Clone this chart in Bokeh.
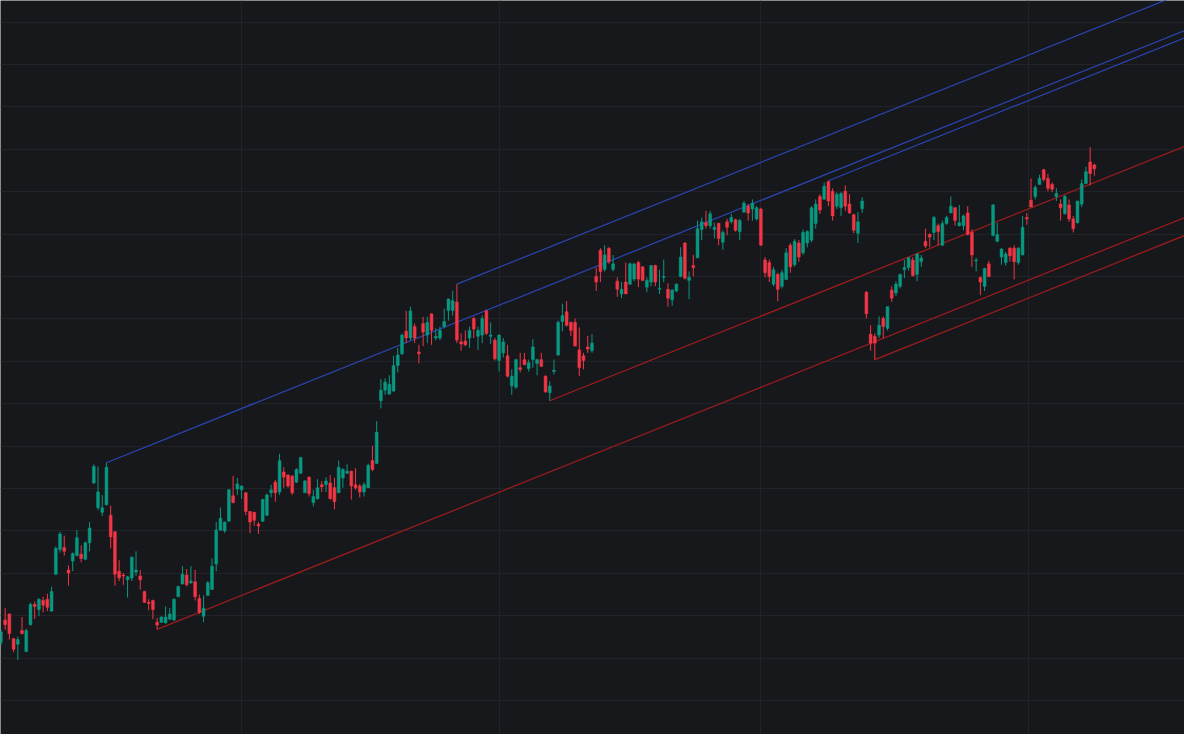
from bokeh.plotting import figure
from bokeh.models import Range1d, Grid, FixedTicker, ColumnDataSource
from bokeh.embed import file_html
from bokeh.resources import INLINE

# ---- OHLC data (one bar per trading session) ----
opens = [113.7,119.0,120.4,114.6,113.3,116.5,111.6,117.9,122.7,121.5,123.6,123.9,121.1,129.8,135.6,136.1,130.8,132.9,134.2,134.5,
         133.3,137.2,151.3,145.5,144.4,146.2,143.7,139.8,130.5,129.6,128.5,128.9,130.3,129.4,125.7,123.2,123.6,118.5,118.5,118.3,
         119.2,119.0,124.5,127.5,129.6,127.8,128.0,124.1,119.9,124.8,126.2,132.2,140.2,140.0,142.3,148.3,149.9,149.7,149.0,144.6,
         144.4,141.6,142.3,143.7,149.0,151.5,149.2,153.9,153.2,152.9,151.5,153.6,149.0,152.7,146.7,147.6,150.9,150.9,151.3,150.2,
         149.0,152.5,153.6,154.1,150.9,150.6,149.2,150.2,156.6,155.9,170.7,173.2,172.3,173.0,179.0,181.8,187.1,185.5,188.2,182.2,
         188.9,186.2,191.2,185.5,185.5,188.2,192.0,192.0,194.0,184.6,184.8,185.5,190.1,185.9,186.2,191.9,185.9,185.0,180.2,182.0,
         181.3,174.2,173.9,178.5,180.4,178.3,180.4,179.5,180.4,176.5,172.6,177.6,181.5,189.4,191.7,189.2,189.2,182.7,181.3,183.4,
         182.5,200.0,206.2,201.7,206.7,201.7,198.9,195.9,198.7,198.2,199.4,203.3,202.3,197.5,198.7,202.6,197.0,199.8,197.0,194.5,
         196.6,200.0,207.9,199.1,202.6,204.4,211.1,212.7,212.0,211.1,212.5,208.1,212.9,212.9,213.4,210.6,215.2,216.6,215.9,213.6,
         215.9,203.9,203.3,198.2,200.5,197.7,199.3,207.4,202.8,207.9,205.6,207.9,208.6,212.5,218.9,218.2,222.4,220.1,216.6,216.2,
         220.1,217.1,214.6,210.2,216.0,196.3,186.4,185.9,186.2,190.1,187.8,196.8,196.1,197.7,201.6,202.1,203.9,200.5,203.5,208.3,
         209.9,210.4,212.0,207.4,212.5,215.0,216.2,212.0,212.0,215.0,210.4,203.7,199.8,197.7,203.0,209.7,208.3,204.6,203.3,206.7,
         206.7,203.3,205.1,213.9,218.0,218.9,221.7,225.2,223.1,221.7,218.9,217.1,214.8,216.9,213.6,212.7,217.1,221.9,227.0,226.3]
highs = [116.7,121.8,120.6,114.8,115.1,119.7,116.9,123.1,123.4,124.1,124.5,125.2,126.9,136.3,139.8,138.9,131.9,134.9,140.2,136.6,
         137.5,142.1,155.7,155.2,148.5,156.1,146.0,140.0,133.1,130.1,129.4,134.0,135.2,130.8,125.9,123.9,123.8,119.5,119.9,122.2,
         121.8,124.1,127.1,131.7,131.0,131.7,130.8,125.0,124.8,128.2,133.5,142.1,145.5,142.2,149.9,153.0,152.5,150.7,149.2,144.7,
         144.5,142.1,147.6,148.8,150.9,152.0,158.2,155.0,153.4,153.2,154.8,157.5,152.0,152.8,149.7,152.2,151.8,152.7,153.2,152.5,
         156.6,154.8,155.7,154.2,154.8,151.1,151.5,155.9,160.1,165.9,175.8,176.0,176.7,181.3,183.2,186.6,191.9,192.9,188.9,183.9,
         190.5,190.5,191.3,187.8,188.2,192.4,194.8,196.6,198.2,186.6,187.3,188.2,190.5,188.2,190.8,192.2,189.2,185.5,186.4,185.5,
         183.9,178.1,180.6,182.0,182.0,180.4,185.2,180.6,182.0,176.7,175.3,180.4,189.6,193.6,194.2,189.4,190.1,188.0,182.0,186.0,
         186.4,202.1,206.7,207.4,206.9,205.1,199.8,198.7,203.3,203.3,203.1,203.7,202.4,199.8,202.7,202.8,201.6,204.0,198.4,197.0,
         198.4,206.9,208.1,201.2,205.1,213.2,213.9,215.5,215.5,212.7,212.7,210.9,213.6,214.8,213.6,213.6,217.8,217.1,218.2,216.6,
         216.2,204.6,204.0,202.3,200.9,201.6,206.7,207.9,208.8,208.6,211.1,210.9,216.6,218.2,219.4,222.2,222.6,220.8,219.9,219.9,
         221.5,219.4,214.8,215.2,218.7,196.6,188.5,186.6,190.6,190.6,192.9,197.7,198.9,200.7,203.9,204.6,204.6,205.6,205.1,211.3,
         210.2,214.3,212.5,213.2,214.3,218.9,216.4,216.9,214.6,216.6,211.1,204.4,200.0,202.1,203.7,217.1,212.7,206.7,205.8,206.9,
         207.4,206.9,214.3,215.0,223.1,221.5,224.0,225.4,224.2,222.2,220.8,218.2,219.2,218.2,214.3,217.8,222.9,225.9,230.5,226.6]
lows = [113.0,116.7,114.4,111.4,109.6,115.6,111.4,117.7,119.2,119.9,120.8,121.1,120.9,129.6,134.9,134.2,127.1,130.5,134.0,132.6,
        133.1,135.2,151.1,144.9,143.5,146.0,135.9,127.1,128.2,127.3,124.3,128.2,129.4,126.2,123.0,121.3,119.2,116.8,118.3,118.2,
        119.0,118.8,124.5,127.4,126.9,127.5,123.6,120.4,118.5,124.8,126.1,130.5,140.0,139.5,142.3,146.5,148.5,147.6,143.7,139.5,
        141.2,139.3,142.1,143.5,147.9,146.9,148.5,150.2,150.2,148.5,151.3,153.4,149.0,148.1,145.8,147.4,149.2,149.2,147.4,145.1,
        149.0,150.2,153.6,147.4,149.7,147.9,148.1,150.2,154.1,155.9,168.9,172.1,172.1,172.8,177.4,181.5,184.3,185.0,184.3,179.5,
        183.6,184.3,183.9,185.0,185.0,187.8,189.6,190.8,184.3,182.5,183.6,183.2,185.5,182.7,184.3,186.2,184.1,180.2,177.6,180.9,
        176.2,172.1,173.5,177.4,179.2,177.6,178.5,176.7,178.8,172.6,170.7,176.9,181.3,187.1,188.2,186.0,183.6,176.5,178.1,182.0,
        182.0,196.6,198.7,201.2,203.0,201.2,195.2,194.9,195.9,198.0,198.9,197.5,198.9,196.3,197.7,197.7,195.9,198.7,192.9,193.1,
        196.3,199.8,199.3,194.7,200.0,204.4,208.6,211.3,211.3,209.0,207.4,206.3,209.7,212.5,210.6,208.6,215.0,213.2,213.2,213.2,
        207.2,199.8,198.7,197.7,194.2,197.2,199.3,200.9,202.3,203.5,205.1,206.9,208.1,211.3,214.8,218.2,216.6,213.2,215.9,214.3,
        215.5,214.8,210.2,207.9,215.0,190.1,182.5,180.4,185.5,185.5,187.3,194.0,195.4,197.2,199.6,201.4,200.0,198.9,202.3,206.7,
        206.9,208.6,207.4,207.2,212.2,215.0,212.0,211.8,210.9,209.7,202.3,201.2,195.6,196.6,199.8,209.5,208.1,202.8,202.6,203.5,
        199.3,202.8,205.1,212.2,216.4,218.2,221.7,222.4,220.1,219.9,217.8,213.2,214.6,212.9,210.4,212.5,216.4,221.9,221.5,223.8]
closes = [116.2,117.9,115.8,112.1,114.4,115.8,116.5,122.7,122.2,123.9,122.5,122.0,125.7,135.9,139.3,135.2,130.1,134.7,138.4,133.5,
          137.2,140.7,155.2,149.2,145.5,155.0,138.6,129.8,128.9,129.4,129.2,133.8,130.8,128.5,123.2,122.9,121.5,117.8,119.7,119.7,
          120.4,123.9,126.9,129.8,127.3,128.2,124.5,120.8,121.8,127.8,131.7,140.2,143.0,142.1,149.7,146.7,151.1,150.6,144.6,142.1,
          142.5,141.2,147.4,148.5,149.7,149.0,156.6,152.7,150.6,149.0,154.5,157.3,151.8,148.8,148.1,150.2,150.4,151.8,147.6,146.9,
          155.0,154.5,154.1,150.6,150.2,149.2,150.9,155.5,154.5,163.3,173.2,175.1,174.6,179.0,181.5,186.2,185.5,191.9,185.5,181.8,
          186.9,189.2,187.3,185.9,187.3,189.4,194.7,194.3,185.0,184.1,183.9,187.3,187.6,187.3,190.1,186.6,186.2,180.6,186.2,184.6,
          176.5,176.5,180.4,178.1,179.2,179.7,183.4,180.4,178.8,172.8,174.2,177.9,189.2,190.8,188.5,187.3,183.6,178.5,180.2,182.9,
          184.3,198.7,201.2,205.1,203.5,203.0,197.0,197.0,195.9,203.0,203.0,199.4,199.1,199.1,202.6,198.7,197.2,200.0,194.9,196.8,
          198.2,204.6,199.6,199.8,202.1,211.3,212.9,212.0,214.8,211.6,209.0,210.4,211.6,213.9,210.9,213.2,217.3,215.0,217.3,216.2,
          207.4,200.9,200.0,201.6,197.0,200.9,205.6,202.3,208.3,204.6,210.4,210.6,216.2,217.1,215.7,221.3,217.8,214.3,219.4,219.6,
          216.6,215.0,210.9,212.9,217.8,191.2,184.3,184.3,188.5,188.2,192.9,194.9,198.2,200.5,202.1,204.4,200.2,205.3,204.4,207.2,
          209.3,213.9,210.6,212.5,213.9,216.6,213.2,212.7,214.3,209.9,205.1,203.9,198.7,201.9,200.0,216.9,209.9,206.5,205.3,204.9,
          203.5,206.7,211.6,213.6,216.4,221.0,223.1,222.9,220.8,220.6,219.6,216.2,218.9,213.6,211.3,217.8,221.9,224.7,224.3,225.4]

# quarter boundaries (bar index) and price grid levels
quarter_ticks = [57, 118, 180, 243.5]
price_levels = list(range(100, 261, 10))

# parallel channel lines: anchor bar, anchor price, colour key
chan_bar = [25, 108, 196, 37, 130, 207]
chan_price = [156.1, 198.2, 222.6, 116.8, 170.7, 180.4]
chan_kind = ["up", "up", "up", "dn", "dn", "dn"]
chan_slope = 0.399  # price per bar

BG = "#17181c"
GRID = "#222329"
UP = "#089981"
DN = "#f23645"
LINE_COL = {"up": "#2a46b4", "dn": "#a31c1c"}

n = len(opens)
idx = list(range(n))
col = [UP if c >= o else DN for o, c in zip(opens, closes)]
src = ColumnDataSource(dict(
    x=idx, o=opens, h=highs, l=lows, c=closes,
    top=[max(o, c) for o, c in zip(opens, closes)],
    bot=[min(o, c) for o, c in zip(opens, closes)],
    color=col))

x_end = 280.35
p = figure(width=1184, height=734, output_backend="svg", toolbar_location=None,
           x_axis_type=None, y_axis_type=None,
           x_range=Range1d(-0.1, x_end), y_range=Range1d(92.0, 265.1),
           background_fill_color=BG, border_fill_color=BG,
           min_border=0, outline_line_color=None)

p.add_layout(Grid(dimension=0, ticker=FixedTicker(ticks=quarter_ticks),
                  grid_line_color=GRID, grid_line_width=1))
p.add_layout(Grid(dimension=1, ticker=FixedTicker(ticks=price_levels),
                  grid_line_color=GRID, grid_line_width=1))

# channel lines drawn from their anchors to the right edge
x1 = [x_end + 2] * len(chan_bar)
y1 = [pr + chan_slope * (x_end + 2 - b) for b, pr in zip(chan_bar, chan_price)]
p.segment(x0=chan_bar, y0=chan_price, x1=x1, y1=y1,
          line_color=[LINE_COL[k] for k in chan_kind], line_width=1.2)

p.segment(x0="x", y0="h", x1="x", y1="l", source=src, line_color="color", line_width=1)
p.vbar(x="x", width=0.68, top="top", bottom="bot", source=src,
       fill_color="color", line_color="color", line_width=0.5)

html = file_html(p, INLINE)
open("out.html", "w").write(html)
